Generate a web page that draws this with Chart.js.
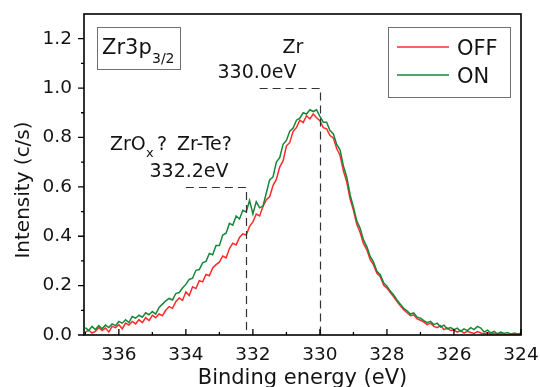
<!DOCTYPE html>
<html><head><meta charset="utf-8">
<script src="https://cdn.jsdelivr.net/npm/chart.js@4.4.1/dist/chart.umd.min.js"></script>
<style>html,body{margin:0;padding:0;background:#fff;}#wrap{width:540px;height:387px;}</style>
</head><body><div id="wrap"><canvas id="c" width="540" height="387"></canvas></div>
<script>
const energies = [
337.0,336.9,336.8,336.7,336.6,336.5,336.4,336.3,336.2,336.1,
336.0,335.9,335.8,335.7,335.6,335.5,335.4,335.3,335.2,335.1,
335.0,334.9,334.8,334.7,334.6,334.5,334.4,334.3,334.2,334.1,
334.0,333.9,333.8,333.7,333.6,333.5,333.4,333.3,333.2,333.1,
333.0,332.9,332.8,332.7,332.6,332.5,332.4,332.3,332.2,332.1,
332.0,331.9,331.8,331.7,331.6,331.5,331.4,331.3,331.2,331.1,
331.0,330.9,330.8,330.7,330.6,330.5,330.4,330.3,330.2,330.1,
330.0,329.9,329.8,329.7,329.6,329.5,329.4,329.3,329.2,329.1,
329.0,328.9,328.8,328.7,328.6,328.5,328.4,328.3,328.2,328.1,
328.0,327.9,327.8,327.7,327.6,327.5,327.4,327.3,327.2,327.1,
327.0,326.9,326.8,326.7,326.6,326.5,326.4,326.3,326.2,326.1,
326.0,325.9,325.8,325.7,325.6,325.5,325.4,325.3,325.2,325.1,
325.0,324.9,324.8,324.7,324.6,324.5,324.4,324.3,324.2,324.1,
324.0];
const intensityOff = [
0.012,0.020,0.008,0.015,0.030,0.018,0.028,0.012,0.035,0.030,
0.042,0.025,0.048,0.040,0.055,0.045,0.062,0.050,0.070,0.058,
0.080,0.070,0.085,0.078,0.100,0.115,0.108,0.135,0.150,0.140,
0.175,0.160,0.195,0.188,0.220,0.215,0.245,0.240,0.272,0.285,
0.295,0.320,0.312,0.350,0.372,0.365,0.395,0.410,0.405,0.440,
0.458,0.490,0.482,0.520,0.548,0.560,0.605,0.630,0.680,0.705,
0.765,0.780,0.825,0.840,0.870,0.860,0.888,0.875,0.895,0.880,
0.868,0.840,0.835,0.808,0.798,0.755,0.728,0.665,0.620,0.552,
0.505,0.448,0.415,0.370,0.345,0.305,0.284,0.250,0.236,0.202,
0.190,0.172,0.155,0.135,0.118,0.102,0.090,0.078,0.082,0.065,
0.060,0.052,0.042,0.048,0.035,0.030,0.038,0.022,0.028,0.018,
0.020,0.012,0.018,0.008,0.015,0.010,0.006,0.014,0.008,0.004,
0.010,0.003,0.007,0.002,0.006,0.003,0.001,0.005,0.002,0.004,
0.002];
const intensityOn = [
0.030,0.018,0.035,0.022,0.038,0.025,0.040,0.030,0.045,0.038,
0.055,0.048,0.062,0.050,0.075,0.068,0.080,0.072,0.090,0.082,
0.095,0.085,0.112,0.125,0.138,0.148,0.142,0.168,0.172,0.190,
0.205,0.225,0.230,0.262,0.265,0.292,0.298,0.330,0.325,0.362,
0.362,0.405,0.412,0.452,0.445,0.482,0.470,0.505,0.498,0.545,
0.490,0.540,0.515,0.522,0.575,0.628,0.640,0.700,0.718,0.772,
0.788,0.825,0.838,0.870,0.878,0.900,0.895,0.912,0.905,0.912,
0.885,0.862,0.862,0.828,0.815,0.772,0.750,0.685,0.640,0.568,
0.518,0.462,0.432,0.385,0.358,0.318,0.295,0.258,0.244,0.212,
0.198,0.178,0.162,0.142,0.125,0.108,0.098,0.085,0.090,0.072,
0.068,0.058,0.050,0.055,0.042,0.048,0.032,0.040,0.025,0.030,
0.022,0.028,0.015,0.025,0.018,0.030,0.022,0.035,0.028,0.012,
0.020,0.008,0.015,0.005,0.012,0.006,0.010,0.003,0.008,0.004,
0.007];
const seriesNames = ['OFF','ON'];
const xTickValues = [336,334,332,330,328,326,324];
const xMinorValues = [337,335,333,331,329,327,325];
const yTickValues = [0,0.2,0.4,0.6,0.8,1.0,1.2];
const yMinorValues = [0.1,0.3,0.5,0.7,0.9,1.1];
// reference markers: [energy, intensity level, start energy of horizontal leader]
const markerZr = [330.0, 1.0, 331.8];
const markerOx = [332.2, 0.6, 334.0];

const FONT = "'DejaVu Sans', sans-serif";
const TXT = '#141414';
const RED = '#ff2a2a';
const GREEN = '#16873a';

const overlay = {
  id: 'overlay',
  afterDatasetsDraw(chart) {
    const ctx = chart.ctx, xs = chart.scales.x, ys = chart.scales.y;
    ctx.save();
    ctx.strokeStyle = '#333';
    ctx.lineWidth = 1.2;
    ctx.setLineDash([8, 5]);
    [markerZr, markerOx].forEach(m => {
      const xp = Math.round(xs.getPixelForValue(m[0])) + 0.5;
      const x0 = xs.getPixelForValue(m[2]);
      const yp = Math.round(ys.getPixelForValue(m[1])) + 0.5;
      const yb = ys.getPixelForValue(0);
      ctx.beginPath();
      ctx.moveTo(x0, yp); ctx.lineTo(xp, yp); ctx.lineTo(xp, yb);
      ctx.stroke();
    });
    ctx.restore();
  },
  afterDraw(chart) {
    const ctx = chart.ctx, a = chart.chartArea, xs = chart.scales.x, ys = chart.scales.y;
    ctx.save();
    ctx.strokeStyle = '#000';
    ctx.lineWidth = 1.6;
    ctx.strokeRect(a.left, a.top, a.right - a.left, a.bottom - a.top);
    ctx.lineWidth = 1.3;
    ctx.beginPath();
    yTickValues.forEach(v => { const y = ys.getPixelForValue(v); ctx.moveTo(a.left - 6, y); ctx.lineTo(a.left, y); });
    yMinorValues.forEach(v => { const y = ys.getPixelForValue(v); ctx.moveTo(a.left - 3, y); ctx.lineTo(a.left, y); });
    xTickValues.forEach(v => { const x = xs.getPixelForValue(v); ctx.moveTo(x, a.bottom); ctx.lineTo(x, a.bottom - 6); });
    xMinorValues.forEach(v => { const x = xs.getPixelForValue(v); ctx.moveTo(x, a.bottom); ctx.lineTo(x, a.bottom - 3); });
    ctx.stroke();

    ctx.fillStyle = TXT;
    ctx.textBaseline = 'alphabetic';
    ctx.font = '21px ' + FONT;
    ctx.textAlign = 'center';
    ctx.fillText('Binding energy (eV)', (a.left + a.right) / 2, 384);
    ctx.save();
    ctx.translate(29, 190);
    ctx.rotate(-Math.PI / 2);
    ctx.font = '20px ' + FONT;
    ctx.fillText('Intensity (c/s)', 0, 0);
    ctx.restore();

    ctx.font = '19px ' + FONT;
    ctx.textAlign = 'center';
    ctx.fillText('Zr', 293, 53);
    ctx.fillText('330.0eV', 257, 78);
    ctx.fillText('332.2eV', 189, 177);
    ctx.textAlign = 'left';
    ctx.fillText('ZrO', 110, 150);
    ctx.font = '13px ' + FONT;
    ctx.fillText('x', 146, 157);
    ctx.font = '19px ' + FONT;
    ctx.fillText('?', 157, 150);
    ctx.fillText('Zr-Te?', 177, 150);

    ctx.strokeStyle = '#707070';
    ctx.lineWidth = 1;
    ctx.strokeRect(97.5, 27.5, 83, 42);
    ctx.font = '21px ' + FONT;
    ctx.fillText('Zr3p', 102, 54);
    ctx.font = '14px ' + FONT;
    ctx.fillText('3/2', 152, 63);

    ctx.strokeRect(388.5, 27.5, 122, 70);
    const cols = [RED, GREEN];
    const ly = [47, 75];
    ctx.lineWidth = 1.5;
    cols.forEach((c, i) => {
      ctx.strokeStyle = c;
      ctx.beginPath(); ctx.moveTo(397, ly[i]); ctx.lineTo(449, ly[i]); ctx.stroke();
    });
    ctx.font = '21px ' + FONT;
    ctx.fillStyle = TXT;
    ctx.fillText(seriesNames[0], 457, 55);
    ctx.fillText(seriesNames[1], 457, 83);
    ctx.restore();
  }
};

function noPad(s) { s.paddingTop = 0; s.paddingBottom = 0; s.paddingLeft = 0; s.paddingRight = 0; }

new Chart(document.getElementById('c'), {
  type: 'line',
  data: {
    datasets: [
      { label: seriesNames[0], data: energies.map((e, i) => ({x: e, y: intensityOff[i]})),
        borderColor: RED, borderWidth: 1.5, pointRadius: 0, tension: 0, order: 2 },
      { label: seriesNames[1], data: energies.map((e, i) => ({x: e, y: intensityOn[i]})),
        borderColor: GREEN, borderWidth: 1.5, pointRadius: 0, tension: 0, order: 1 }
    ]
  },
  options: {
    responsive: false,
    animation: false,
    devicePixelRatio: 1,
    layout: { padding: { left: 0, right: 19, top: 14, bottom: 0 } },
    plugins: { legend: { display: false }, tooltip: { enabled: false } },
    scales: {
      x: {
        type: 'linear', reverse: true, min: 324, max: 337.04,
        afterBuildTicks: s => { s.ticks = xTickValues.map(v => ({value: v})); },
        afterFit: s => { s.height = 52; noPad(s); },
        grid: { display: false, drawTicks: false },
        border: { display: false },
        ticks: { color: TXT, font: { family: FONT, size: 18.5 }, padding: 9, maxRotation: 0,
                 callback: v => String(v) }
      },
      y: {
        min: 0, max: 1.3,
        afterBuildTicks: s => { s.ticks = yTickValues.map(v => ({value: v})); },
        afterFit: s => { s.width = 84; noPad(s); },
        grid: { display: false, drawTicks: false },
        border: { display: false },
        ticks: { color: TXT, font: { family: FONT, size: 18.5 }, padding: 12,
                 callback: v => Number(v).toFixed(1) }
      }
    }
  },
  plugins: [overlay]
});
</script></body></html>
